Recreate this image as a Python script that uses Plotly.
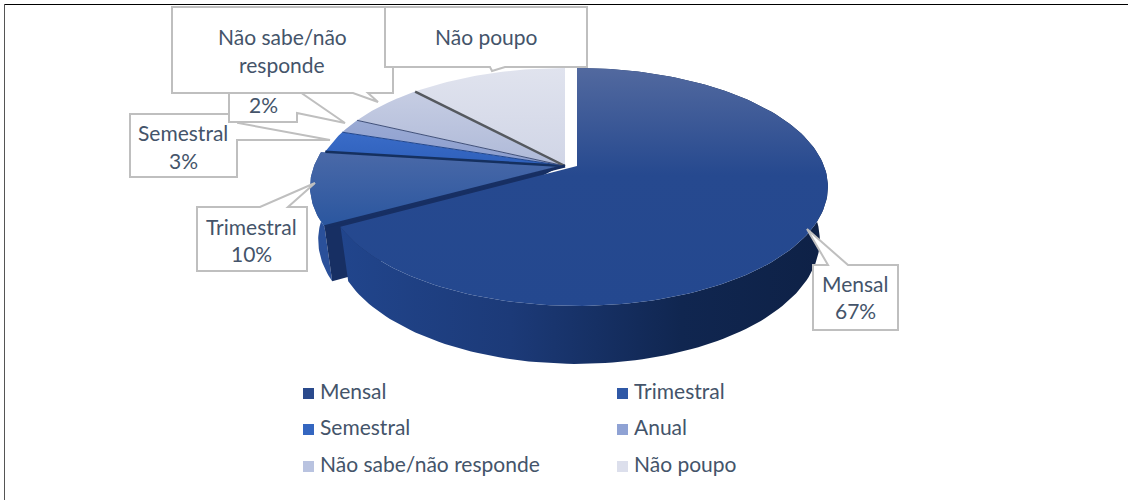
import numpy as np
import plotly.graph_objects as go

# ---- data ----
categories = ["Mensal", "Trimestral", "Semestral", "Anual", "Não sabe/não responde", "Não poupo"]
values = [67, 10, 3, 2, 6, 12]
labels_pct = ["67%", "10%", "3%", "2%", "", ""]

# ---- styling ----
TXT = "#44546a"
BOX = "#bfbfbf"
FONT = "Lato"
top_grad = [
    [[0, "#24488f"], [0.55, "#26498f"], [1, "#52699f"]],
    [[0, "#2a569f"], [1, "#4a69a8"]],
    [[0, "#2e60bb"], [1, "#3a6cc8"]],
    [[0, "#8b9dce"], [1, "#9aaad4"]],
    [[0, "#aeb9d8"], [1, "#c6cde3"]],
    [[0, "#d0d5e6"], [1, "#e0e3ee"]],
]
swatch = ["#2a4a8c", "#2f58a6", "#3466c0", "#8fa2d4", "#b9c3e0", "#dcdfec"]
offset_x = [12, -4, 0, 0, 0, 0]    # explosion of each slice from the pie axis at x=565
PERSP = 0.176
TOP = dict(y0=166, h=115.3, a=247)
BOT = dict(y0=218, h=120.2, a=239)
CX = 565


def project(theta, plane, dx):
    d = 1 + PERSP * np.cos(theta)
    return CX + dx + plane["a"] * np.sin(theta) / d, plane["y0"] - plane["h"] * np.cos(theta) / d


def poly(x, y, **kw):
    return go.Scatter(x=np.round(x, 1).tolist(), y=np.round(y, 1).tolist(), mode="lines", fill="toself",
                      hoverinfo="skip", showlegend=False, **kw)


edges = np.cumsum([0] + values) / sum(values) * 2 * np.pi
fig = go.Figure()

# Trimestral walls (behind the Mensal slice)
t0, t1 = edges[1], edges[2]
dx = offset_x[1]
arc = np.linspace(t0, t1, 40)
xt, yt = project(arc, TOP, dx)
xb, yb = project(arc, BOT, dx)
fig.add_trace(poly(np.r_[xt, xb[::-1], xt[0]], np.r_[yt, yb[::-1], yt[0]],
                   line=dict(width=0, color="#2a509a"), fillcolor="#2a509a"))
xt0, yt0 = project(np.array([t0]), TOP, dx)
xb0, yb0 = project(np.array([t0]), BOT, dx)
fig.add_trace(poly(np.r_[CX + dx, xt0, xb0, xb0 + 22, CX + dx],
                   np.r_[TOP["y0"], yt0, yb0, yb0 - 6, TOP["y0"]],
                   line=dict(width=0, color="#172f63"), fillcolor="#172f63"))

# top faces of the small slices
for i in range(1, 6):
    arc = np.linspace(edges[i], edges[i + 1], 40)
    x, y = project(arc, TOP, offset_x[i])
    fig.add_trace(poly(np.r_[CX + offset_x[i], x, CX + offset_x[i]], np.r_[TOP["y0"], y, TOP["y0"]],
                       line=dict(width=0, color=swatch[i]),
                       fillgradient=dict(type="vertical", colorscale=top_grad[i])))

# slice separators, from the axis to the rim
sep_style = {2: ("#15305f", 2.5), 3: ("#21468c", 1), 4: ("#3f4f78", 1), 5: ("#55595f", 2.5)}
for i, (c, w) in sep_style.items():
    x, y = project(np.array([edges[i]]), TOP, 0)
    fig.add_trace(go.Scatter(x=[CX, x[0]], y=[TOP["y0"], y[0]], mode="lines", hoverinfo="skip",
                             showlegend=False, line=dict(color=c, width=w)))

# Trimestral cut face, seen as a dark strip along the gap
x, y = project(np.array([edges[1]]), TOP, offset_x[1])
fig.add_trace(go.Scatter(x=[CX, x[0]], y=[TOP["y0"], y[0]], mode="lines", hoverinfo="skip",
                         showlegend=False, line=dict(color="#172f63", width=3)))

# Mensal wall then top face
dx = offset_x[0]
arc = np.linspace(edges[0], edges[1], 160)
xt, yt = project(arc, TOP, dx)
xb, yb = project(arc, BOT, dx)
fig.add_trace(poly(np.r_[xt, xb[::-1], xt[0]], np.r_[yt, yb[::-1], yt[0]],
                   line=dict(width=0, color="#15294f"),
                   fillgradient=dict(type="horizontal",
                                     colorscale=[[0, "#21458c"], [0.35, "#1c3a78"], [0.7, "#102650"], [1, "#0e2146"]])))
fig.add_trace(poly(np.r_[CX + dx, xt, CX + dx], np.r_[TOP["y0"], yt, TOP["y0"]],
                   line=dict(width=0, color="#27498f"),
                   fillgradient=dict(type="vertical", colorscale=top_grad[0])))

# ---- callouts: outlines in page pixels, drawn in stacking order ----
def path(pts):
    return "M" + " L".join(f"{a},{b}" for a, b in pts) + " Z"


callouts = [
    [(813, 265), (828, 265), (807, 229), (848, 265), (898, 265), (898, 330), (813, 330)],
    [(197, 207), (260, 207), (315, 183), (288, 207), (307, 207), (307, 271), (197, 271)],
    [(130, 114), (238, 114), (238, 123), (330, 140), (237, 140), (237, 177), (130, 177)],
    [(229, 90), (297, 90), (345, 123), (297, 113), (297, 122), (229, 122)],
    [(172, 7), (393, 7), (393, 93), (368, 93), (378, 102), (353, 93), (172, 93)],
    [(385, 7), (587, 7), (587, 67), (505, 67), (492, 71), (490, 67), (385, 67)],
]
shapes = [dict(type="path", xref="x", yref="y", path=path(c), fillcolor="white",
               line=dict(color=BOX, width=2), layer="above") for c in callouts]

# frame lines of the screenshot
shapes += [
    dict(type="line", xref="x", yref="y", x0=4, x1=1128, y0=4.5, y1=4.5, line=dict(color="#000000", width=1)),
    dict(type="line", xref="x", yref="y", x0=4.5, x1=4.5, y0=4, y1=500, line=dict(color="#555555", width=1)),
]

# ---- texts ----
def txt(x, y, s, size=21):
    return dict(x=x, y=y, xref="x", yref="y", text=s, showarrow=False, xanchor="center", yanchor="middle",
                font=dict(family=FONT, size=size, color=TXT))


annotations = [
    txt(855, 283, categories[0]), txt(855, 310, labels_pct[0]),
    txt(251, 226, categories[1]), txt(251, 253, labels_pct[1]),
    txt(183, 132, categories[2]), txt(183, 160, labels_pct[2]),
    txt(263, 104, labels_pct[3]),
    txt(282, 36, "Não sabe/não"), txt(282, 64, "responde"),
    txt(486, 36, categories[5]),
]

# ---- legend, two columns ----
col_x = [303, 617]
row_y = [392, 428, 465]
for i, name in enumerate(categories):
    lx, ly = col_x[i % 2], row_y[i // 2]
    shapes.append(dict(type="rect", xref="x", yref="y", x0=lx, x1=lx + 11, y0=ly - 4, y1=ly + 7,
                       fillcolor=swatch[i], line=dict(width=0)))
    annotations.append(dict(x=lx + 15, y=ly - 2, xref="x", yref="y", text=name, showarrow=False, xanchor="left",
                            yanchor="middle", font=dict(family=FONT, size=21, color=TXT)))

fig.update_layout(
    width=1128, height=500, margin=dict(l=0, r=0, t=0, b=0),
    paper_bgcolor="white", plot_bgcolor="white", showlegend=False,
    xaxis=dict(range=[0, 1128], visible=False, fixedrange=True),
    yaxis=dict(range=[500, 0], visible=False, fixedrange=True),
    shapes=shapes, annotations=annotations,
)
fig.write_html("out.html", config={"displayModeBar": False},
               post_script="document.body.style.margin='0';document.body.style.overflow='hidden';")
